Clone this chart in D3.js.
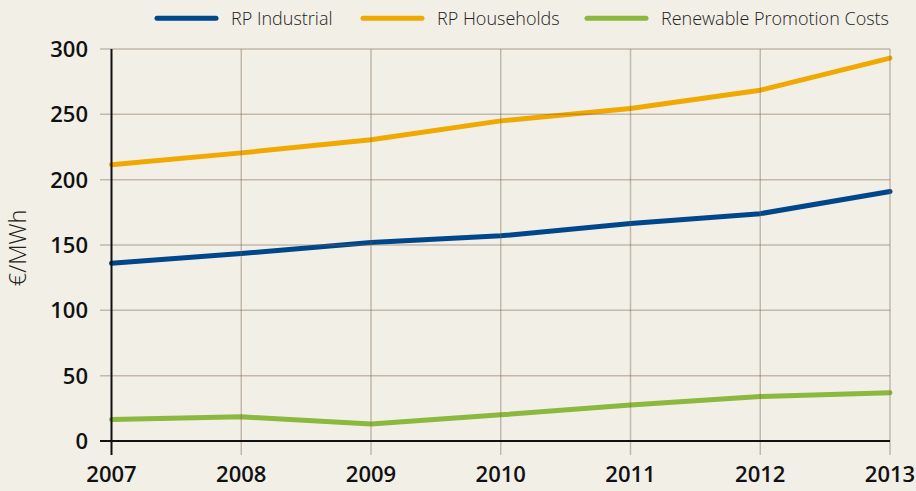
<!DOCTYPE html>
<html><head><meta charset="utf-8">
<script src="https://cdn.jsdelivr.net/npm/d3@7"></script>
<style>
html,body{margin:0;padding:0;background:#f2efe7;}
svg{display:block;}
</style></head>
<body>
<svg id="chart" width="916" height="491"></svg>
<script>
const years = [2007, 2008, 2009, 2010, 2011, 2012, 2013];
const rpIndustrial = [136, 143.5, 152, 157, 166.5, 174, 191];
const rpHouseholds = [211.5, 220.5, 230.5, 245, 254.5, 268.5, 293];
const renewableCosts = [16.5, 18.5, 13, 20, 27.5, 34, 37];
const yTicks = [0, 50, 100, 150, 200, 250, 300];
const seriesNames = ["RP Industrial", "RP Households", "Renewable Promotion Costs"];
const seriesColors = ["#00468b", "#f0a900", "#8bb83e"];

const svg = d3.select("#chart");
const W = 916, H = 491;
svg.append("rect").attr("width", W).attr("height", H).attr("fill", "#f2efe7");

const x = d3.scaleLinear().domain([2007, 2013]).range([111.5, 890]);
const y = d3.scaleLinear().domain([0, 300]).range([441, 49]);

const series = [rpIndustrial, rpHouseholds, renewableCosts];

// lines
const line = d3.line().x((d, i) => x(years[i])).y(d => y(d));
series.forEach((vals, k) => {
  svg.append("path").datum(vals)
    .attr("d", line)
    .attr("fill", "none")
    .attr("stroke", seriesColors[k])
    .attr("stroke-width", 5)
    .attr("stroke-linecap", "round")
    .attr("stroke-linejoin", "round");
});

// grid (drawn on top, semi-transparent)
const gridColor = "rgba(120,95,70,0.38)";
svg.append("g").selectAll("line").data(yTicks.filter(t => t > 0)).join("line")
  .attr("x1", 100).attr("x2", 890)
  .attr("y1", d => y(d)).attr("y2", d => y(d))
  .attr("stroke", gridColor).attr("stroke-width", 1.5);
svg.append("g").selectAll("line").data(years.slice(1)).join("line")
  .attr("x1", d => x(d)).attr("x2", d => x(d))
  .attr("y1", y(300)).attr("y2", 455)
  .attr("stroke", gridColor).attr("stroke-width", 1.5);

// axes lines
svg.append("line").attr("x1", 100).attr("x2", 890).attr("y1", y(0)).attr("y2", y(0))
  .attr("stroke", "#111").attr("stroke-width", 2);
svg.append("line").attr("x1", x(2007)).attr("x2", x(2007)).attr("y1", y(300)).attr("y2", 455)
  .attr("stroke", "#111").attr("stroke-width", 2);

// tick labels
const tickFont = "'Open Sans', sans-serif";
svg.append("g").selectAll("text").data(yTicks).join("text")
  .attr("x", 88).attr("y", d => y(d) + 8)
  .attr("text-anchor", "end")
  .attr("font-family", tickFont).attr("font-weight", 600).attr("font-size", 22)
  .attr("fill", "#111")
  .text(d => d);
svg.append("g").selectAll("text").data(years).join("text")
  .attr("x", d => x(d)).attr("y", 482)
  .attr("text-anchor", "middle")
  .attr("font-family", tickFont).attr("font-weight", 600).attr("font-size", 22)
  .attr("fill", "#111")
  .text(d => d);

// y title
svg.append("text")
  .attr("transform", "translate(26,248) rotate(-90)")
  .attr("text-anchor", "middle")
  .attr("font-family", "'Open Sans', sans-serif").attr("font-weight", 300).attr("font-size", 23.5)
  .attr("fill", "#222")
  .text("€/MWh");

// legend
const legendX = [155, 361, 585];
const legend = svg.append("g");
seriesNames.forEach((name, k) => {
  legend.append("line")
    .attr("x1", legendX[k] + 2).attr("x2", legendX[k] + 61)
    .attr("y1", 18.3).attr("y2", 18.3)
    .attr("stroke", seriesColors[k]).attr("stroke-width", 5).attr("stroke-linecap", "round");
  legend.append("text")
    .attr("x", legendX[k] + 76).attr("y", 25)
    .attr("font-family", "'Open Sans', sans-serif").attr("font-weight", 300).attr("font-size", 18)
    .attr("fill", "#222")
    .text(name);
});
</script>
</body></html>
